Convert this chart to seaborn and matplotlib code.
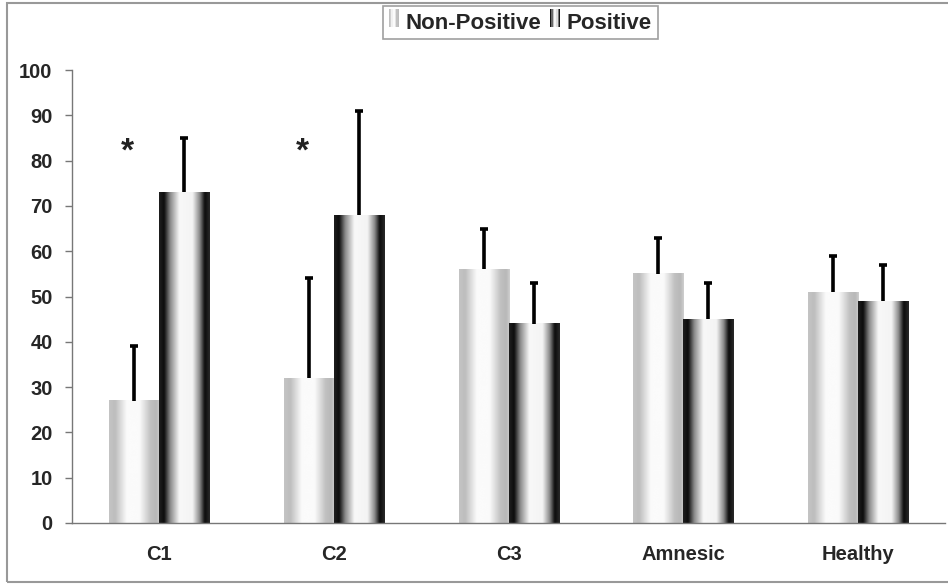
import numpy as np
import pandas as pd
import matplotlib.pyplot as plt
import seaborn as sns
from matplotlib.colors import LinearSegmentedColormap
from matplotlib.legend_handler import HandlerBase
from matplotlib.patches import Rectangle, Patch

# values
groups = ["C1", "C2", "C3", "Amnesic", "Healthy"]
status = ["Non-Positive", "Positive"]
non_positive = [27, 32, 56, 55, 51]
positive = [73, 68, 44, 45, 49]
non_positive_err = [12, 22, 9, 8, 8]
positive_err = [12, 23, 9, 8, 8]
star_groups = ["C1", "C2"]
star_y = [82, 82]

sns.set_style("white")
plt.rcParams["font.family"] = ["Liberation Sans", "DejaVu Sans"]
plt.rcParams["font.weight"] = "bold"

df = pd.DataFrame({
    "group": groups * 2,
    "status": [status[0]] * len(groups) + [status[1]] * len(groups),
    "value": non_positive + positive,
})

# cylinder-like shading used by the old spreadsheet chart
light_cmap = LinearSegmentedColormap.from_list("light", [
    (0.0, "#c4c4c4"), (0.12, "#bdbdbd"), (0.35, "#fbfbfb"), (0.6, "#fbfbfb"),
    (0.82, "#c0c0c0"), (0.93, "#b8b8b8"), (1.0, "#d0d0d0")])
dark_cmap = LinearSegmentedColormap.from_list("dark", [
    (0.0, "#202020"), (0.1, "#0c0c0c"), (0.22, "#8a8a8a"), (0.4, "#f8f8f8"),
    (0.66, "#f4f4f4"), (0.8, "#8a8a8a"), (0.9, "#0c0c0c"), (1.0, "#2a2a2a")])
cmaps = [light_cmap, dark_cmap]

fig = plt.figure(figsize=(9.48, 5.84), dpi=100)
ax = fig.add_axes([0.076, 0.1045, 0.921, 0.7755])

sns.barplot(data=df, x="group", y="value", hue="status", order=groups,
            hue_order=status, palette=["#dddddd", "#444444"], width=0.573,
            gap=0, legend=False, edgecolor="none", ax=ax)

grad = np.linspace(0, 1, 256).reshape(1, -1)
for cont, cmap, err in zip(ax.containers, cmaps, [non_positive_err, positive_err]):
    xs, tops = [], []
    for bar in cont:
        x0, w, h = bar.get_x(), bar.get_width(), bar.get_height()
        ax.imshow(grad, cmap=cmap, extent=[x0, x0 + w, 0, h], aspect="auto",
                  interpolation="bicubic", zorder=2)
        bar.set_facecolor("none")
        xs.append(x0 + w / 2)
        tops.append(h)
    _, caps, _ = ax.errorbar(xs, tops, yerr=[np.zeros(len(err)), err],
                             fmt="none", ecolor="black", elinewidth=2.6,
                             capsize=2.6, capthick=2.6, zorder=3)
    caps[0].set_visible(False)  # only the upper whisker has a cap

# significance stars over the light bars
for g, sy in zip(star_groups, star_y):
    bar = ax.containers[0][groups.index(g)]
    ax.text(bar.get_x() + bar.get_width() / 2 - 0.04, sy, "*", ha="center",
            va="center", fontsize=24, fontweight="bold", color="#222222",
            zorder=4)

ax.set_xlim(-0.5, len(groups) - 0.5)
ax.set_ylim(0, 100)
ax.set_yticks(range(0, 101, 10))
ax.set_xlabel("")
ax.set_ylabel("")
ax.set_xticks(np.arange(-0.5, len(groups), 1), minor=True)
ax.tick_params(axis="x", which="major", length=0, pad=16, labelsize=14.5)
ax.tick_params(axis="x", which="minor", length=5, width=1, color="#777777",
               direction="out")
ax.tick_params(axis="y", length=5, width=1, color="#777777", pad=9,
               labelsize=14.5, direction="out", left=True)
for lab in ax.get_xticklabels() + ax.get_yticklabels():
    lab.set_fontweight("bold")
for side in ["top", "right"]:
    ax.spines[side].set_visible(False)
for side in ["left", "bottom"]:
    ax.spines[side].set_color("#777777")
    ax.spines[side].set_linewidth(1)


class GradHandler(HandlerBase):
    def __init__(self, cmap):
        super().__init__()
        self.cmap = cmap

    def create_artists(self, legend, orig, xd, yd, w, h, fontsize, trans):
        n = 8
        return [Rectangle((xd + k * w / n, yd), w / n, h,
                          facecolor=self.cmap((k + 0.5) / n), edgecolor="none",
                          transform=trans) for k in range(n)]


handles = [Patch(label=s) for s in status]
leg = fig.legend(handles=handles, labels=status, loc="center",
                 bbox_to_anchor=(0.549, 0.961), ncol=2, frameon=True,
                 fancybox=False, handlelength=0.45, handleheight=0.9,
                 handletextpad=0.3, columnspacing=0.4, borderpad=0.25,
                 prop={"weight": "bold", "size": 16},
                 handler_map={handles[0]: GradHandler(light_cmap),
                              handles[1]: GradHandler(dark_cmap)})
leg.get_frame().set_edgecolor("#888888")
leg.get_frame().set_linewidth(1.2)

# outer chart frame
fig.patches.append(Rectangle((7 / 948, 2 / 584), 1.0, 579 / 584,
                             transform=fig.transFigure, fill=False,
                             edgecolor="#999999", linewidth=1.5))

fig.savefig("out.png", dpi=100)
